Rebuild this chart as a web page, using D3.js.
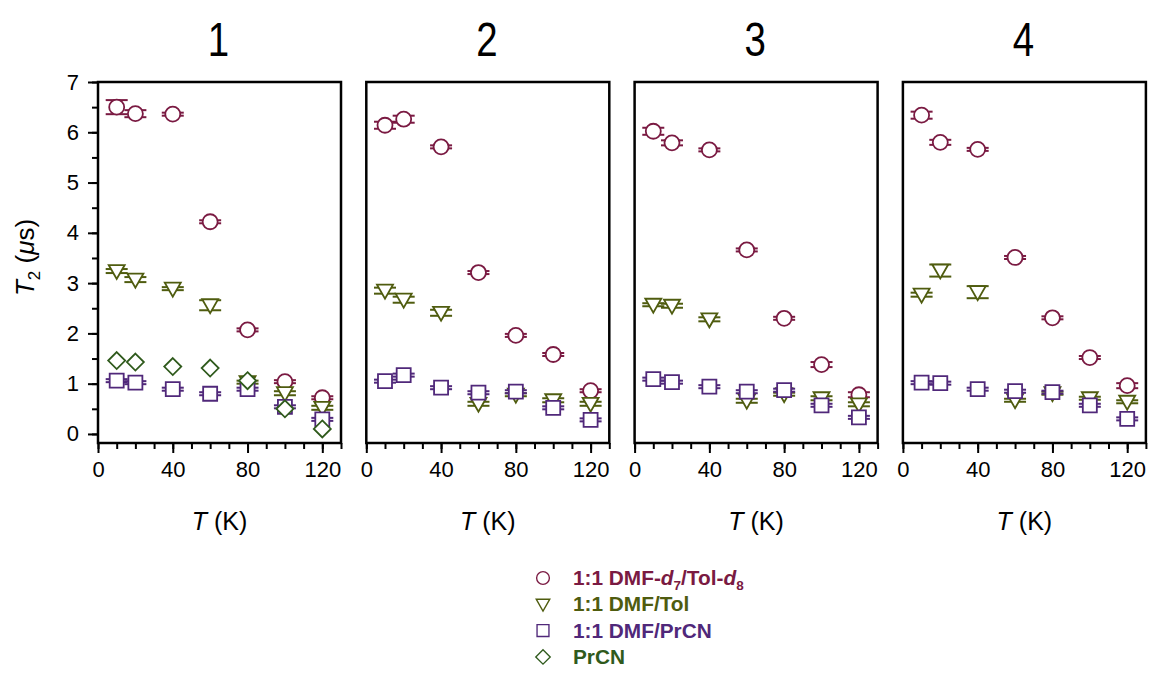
<!DOCTYPE html>
<html>
<head>
<meta charset="utf-8">
<script src="https://cdn.jsdelivr.net/npm/d3@7"></script>
<style>
  html, body { margin: 0; padding: 0; background: #fff; }
  svg { display: block; }
  text { font-family: "Liberation Sans", Arial, sans-serif; }
</style>
</head>
<body>
<svg id="chart" width="1154" height="686"></svg>
<script>
// Temperatures (K) at which T2 was measured
const temps = [10, 20, 40, 60, 80, 100, 120];
const panelTitles = ["1", "2", "3", "4"];
const xTicks = [0, 40, 80, 120];
const yTicks = [0, 1, 2, 3, 4, 5, 6, 7];

// T2 (µs) for each compound 1–4, per solvent
const dmfTolD = [
  [6.50, 6.37, 6.36, 4.22, 2.07, 1.04, 0.72],
  [6.14, 6.26, 5.71, 3.21, 1.96, 1.58, 0.86],
  [6.02, 5.79, 5.65, 3.66, 2.30, 1.38, 0.78],
  [6.34, 5.80, 5.66, 3.51, 2.31, 1.52, 0.96]
];
const dmfTolDErr = [
  [0.14, 0.07, 0.03, 0.03, 0.03, 0.03, 0.03],
  [0.07, 0.07, 0.03, 0.03, 0.03, 0.03, 0.03],
  [0.07, 0.05, 0.03, 0.03, 0.03, 0.05, 0.05],
  [0.07, 0.05, 0.03, 0.03, 0.03, 0.03, 0.05]
];
const dmfTol = [
  [3.24, 3.07, 2.89, 2.56, 1.03, 0.81, 0.52],
  [2.85, 2.67, 2.41, 0.60, 0.78, 0.67, 0.60],
  [2.57, 2.55, 2.28, 0.66, 0.79, 0.71, 0.59],
  [2.77, 3.25, 2.82, 0.67, 0.81, 0.71, 0.64]
];
const dmfTolErr = [
  [0.04, 0.05, 0.03, 0.10, 0.03, 0.04, 0.04],
  [0.06, 0.06, 0.06, 0.04, 0.03, 0.04, 0.04],
  [0.03, 0.04, 0.04, 0.04, 0.03, 0.04, 0.04],
  [0.04, 0.12, 0.12, 0.03, 0.03, 0.03, 0.03]
];
const dmfPrCN = [
  [1.06, 1.02, 0.89, 0.80, 0.89, 0.54, 0.29],
  [1.05, 1.17, 0.92, 0.82, 0.84, 0.52, 0.28],
  [1.09, 1.03, 0.94, 0.84, 0.87, 0.57, 0.33],
  [1.02, 1.01, 0.89, 0.85, 0.83, 0.57, 0.30]
];
const dmfPrCNErr = [
  [0.03, 0.03, 0.03, 0.03, 0.03, 0.03, 0.03],
  [0.03, 0.03, 0.03, 0.03, 0.03, 0.03, 0.03],
  [0.03, 0.03, 0.03, 0.03, 0.03, 0.03, 0.03],
  [0.03, 0.03, 0.03, 0.03, 0.03, 0.03, 0.03]
];
// PrCN was measured for compound 1 only
const prCN = [
  [1.46, 1.43, 1.34, 1.31, 1.06, 0.50, 0.10],
  null, null, null
];

const seriesDefs = [
  { name: "dmfTolD", values: dmfTolD, errs: dmfTolDErr, symbol: "circle",  color: "#7a1a42" },
  { name: "dmfTol",  values: dmfTol,  errs: dmfTolErr,  symbol: "tri",     color: "#4f5c0f" },
  { name: "dmfPrCN", values: dmfPrCN, errs: dmfPrCNErr, symbol: "square",  color: "#50287a" },
  { name: "prCN",    values: prCN,    errs: null,       symbol: "diamond", color: "#2f5a1c" }
];

const svg = d3.select("#chart");

const panelLeft0 = 98, panelStep = 268.3, panelW = 243;
const panelTop = 82, panelBottom = 443;

const x = d3.scaleLinear().domain([0, 130]).range([0, panelW]);
const y = d3.scaleLinear().domain([-0.18, 7]).range([panelBottom, panelTop]);

// marker shapes drawn centred at 0,0
function markerPath(sym) {
  switch (sym) {
    case "circle":  return d3.symbol(d3.symbolCircle, Math.PI * 7.5 * 7.5)();
    case "square":  return "M-7,-7H7V7H-7Z";
    case "tri":     return "M-8,-6H8L0,8Z";
    case "diamond": return "M0,-8.5L8.5,0L0,8.5L-8.5,0Z";
  }
}

panelTitles.forEach((title, i) => {
  const left = panelLeft0 + i * panelStep;
  const g = svg.append("g").attr("transform", `translate(${left},0)`);

  // panel number, set in a condensed face
  g.append("text")
    .attr("transform", `translate(${panelW / 2 - 1},56) scale(0.8,1)`)
    .attr("text-anchor", "middle")
    .attr("font-size", 48)
    .text(title);

  // x axis (major every 40, minor every 10)
  const xMinor = d3.axisBottom(x).tickValues(d3.range(0, 131, 10)).tickSize(6).tickFormat("");
  const xMajor = d3.axisBottom(x).tickValues(xTicks).tickSize(10).tickPadding(8);
  const gxm = g.append("g").attr("transform", `translate(0,${panelBottom})`).call(xMinor);
  const gx = g.append("g").attr("transform", `translate(0,${panelBottom})`).call(xMajor);
  [gxm, gx].forEach(a => {
    a.select(".domain").remove();
    a.selectAll("line").attr("stroke", "#000").attr("stroke-width", 2);
  });
  gx.selectAll("text").attr("font-size", 22).attr("fill", "#000")
    .style("font-family", '"Liberation Sans", Arial, sans-serif');

  // x axis title
  const xt = g.append("text")
    .attr("x", panelW / 2)
    .attr("y", 530)
    .attr("text-anchor", "middle")
    .attr("font-size", 25);
  xt.append("tspan").attr("font-style", "italic").text("T");
  xt.append("tspan").text(" (K)");

  if (i === 0) {
    const yMinor = d3.axisLeft(y).tickValues(d3.range(0, 7.01, 0.5)).tickSize(6).tickFormat("");
    const yMajor = d3.axisLeft(y).tickValues(yTicks).tickSize(10).tickPadding(9);
    const gym = g.append("g").call(yMinor);
    const gy = g.append("g").call(yMajor);
    [gym, gy].forEach(a => {
      a.select(".domain").remove();
      a.selectAll("line").attr("stroke", "#000").attr("stroke-width", 2);
    });
    gy.selectAll("text").attr("font-size", 22).attr("fill", "#000")
      .style("font-family", '"Liberation Sans", Arial, sans-serif');

    // y axis title
    const yt = g.append("text")
      .attr("transform", `translate(${-64},${(panelTop + panelBottom) / 2 - 5}) rotate(-90)`)
      .attr("text-anchor", "middle")
      .attr("font-size", 26);
    yt.append("tspan").attr("font-style", "italic").text("T");
    yt.append("tspan").attr("font-size", 17).attr("dy", 6).text("2");
    yt.append("tspan").attr("dy", -6).text(" (");
    yt.append("tspan").attr("font-style", "italic").text("\u03BC");
    yt.append("tspan").text("s)");
  }

  // series: error bars then markers
  seriesDefs.forEach(s => {
    const vals = s.values[i];
    if (!vals) return;
    const errs = s.errs ? s.errs[i] : null;
    const pts = temps.map((t, k) => ({ t, v: vals[k], e: errs ? errs[k] : 0 }));
    const sg = g.append("g");
    if (errs) {
      const eb = sg.selectAll("g.eb").data(pts).join("g").attr("class", "eb");
      eb.append("line")
        .attr("x1", d => x(d.t)).attr("x2", d => x(d.t))
        .attr("y1", d => y(d.v + d.e)).attr("y2", d => y(d.v - d.e))
        .attr("stroke", s.color).attr("stroke-width", 1.5);
      [1, -1].forEach(sign => {
        eb.append("line")
          .attr("x1", d => x(d.t) - 11).attr("x2", d => x(d.t) + 11)
          .attr("y1", d => y(d.v + sign * d.e)).attr("y2", d => y(d.v + sign * d.e))
          .attr("stroke", s.color).attr("stroke-width", 2);
      });
    }
    sg.selectAll("path.mk").data(pts).join("path").attr("class", "mk")
      .attr("transform", d => `translate(${x(d.t)},${y(d.v)})`)
      .attr("d", markerPath(s.symbol))
      .attr("fill", "#fff")
      .attr("stroke", s.color)
      .attr("stroke-width", 1.8);
  });

  // frame
  g.append("rect")
    .attr("x", 0).attr("y", panelTop)
    .attr("width", panelW).attr("height", panelBottom - panelTop)
    .attr("fill", "none").attr("stroke", "#000").attr("stroke-width", 2.5);
});

// legend
const legendItems = [
  { symbol: "circle",  color: "#7a1a42", parts: [["1:1 DMF-"], ["d", "i"], ["7", "sub"], ["/Tol-"], ["d", "i"], ["8", "sub"]] },
  { symbol: "tri",     color: "#4f5c0f", parts: [["1:1 DMF/Tol"]] },
  { symbol: "square",  color: "#50287a", parts: [["1:1 DMF/PrCN"]] },
  { symbol: "diamond", color: "#2f5a1c", parts: [["PrCN"]] }
];
const lg = svg.append("g").attr("transform", "translate(543,578)");
legendItems.forEach((it, k) => {
  const row = lg.append("g").attr("transform", `translate(0,${k * 26.3})`);
  row.append("path")
    .attr("d", markerPath(it.symbol))
    .attr("transform", "scale(0.85)")
    .attr("fill", "none").attr("stroke", it.color).attr("stroke-width", 1.6);
  const t = row.append("text").attr("x", 30).attr("y", 7)
    .attr("font-size", 20.8).attr("font-weight", "bold").attr("fill", it.color);
  let shift = 0;
  it.parts.forEach(([s, kind]) => {
    const ts = t.append("tspan").text(s);
    if (kind === "i") ts.attr("font-style", "italic");
    if (kind === "sub") { ts.attr("font-size", 13.5).attr("dy", 5); shift = 5; }
    else if (shift) { ts.attr("dy", -shift); shift = 0; }
  });
});
</script>
</body>
</html>
